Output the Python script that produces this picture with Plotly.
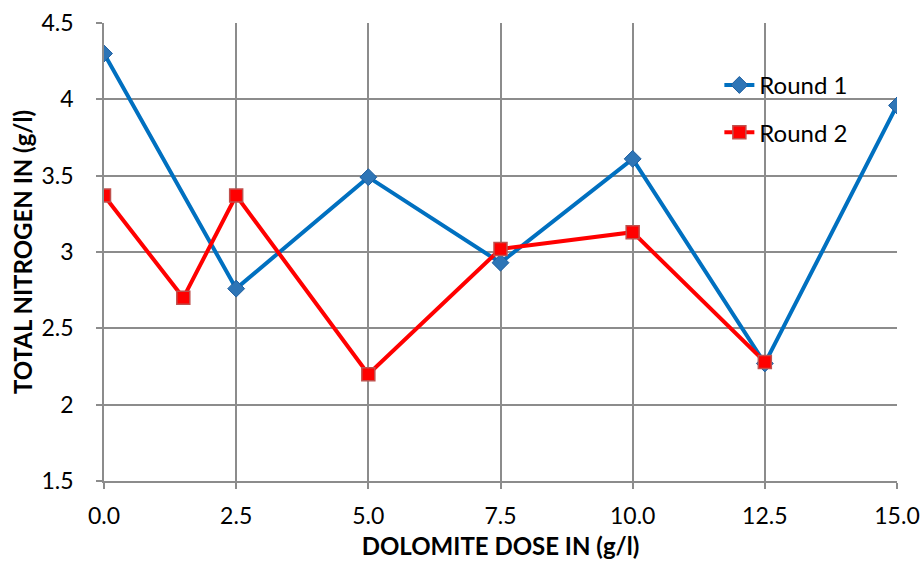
import plotly.graph_objects as go

x_round1 = [0, 2.5, 5, 7.5, 10, 12.5, 15]
y_round1 = [4.30, 2.76, 3.49, 2.93, 3.61, 2.27, 3.96]
x_round2 = [0, 1.5, 2.5, 5, 7.5, 10, 12.5]
y_round2 = [3.37, 2.70, 3.37, 2.20, 3.02, 3.13, 2.28]
x_ticks = [0, 2.5, 5, 7.5, 10, 12.5, 15]
x_ticklabels = ["0.0", "2.5", "5.0", "7.5", "10.0", "12.5", "15.0"]

font_family = "Lato, Open Sans, sans-serif"

fig = go.Figure()
fig.add_trace(go.Scatter(
    x=x_round1, y=y_round1, name="Round 1", mode="lines+markers",
    legendgroup="a",
    line=dict(color="#0070C0", width=4),
    marker=dict(symbol="diamond", size=13, color="#2E75B6",
                line=dict(color="#1F5FA0", width=1)),
))
fig.add_trace(go.Scatter(
    x=x_round2, y=y_round2, name="Round 2", mode="lines+markers",
    legendgroup="b",
    line=dict(color="#FF0000", width=4),
    marker=dict(symbol="square", size=13, color="#FF0000",
                line=dict(color="#C0504D", width=1.5)),
))

axis_common = dict(
    showgrid=True, gridcolor="#8C8C8C", gridwidth=1.5,
    showline=True, linecolor="#8C8C8C", linewidth=1.5,
    ticks="outside", tickcolor="#8C8C8C", ticklen=6, tickwidth=1.5,
    zeroline=False, automargin=False,
    tickfont=dict(family=font_family, size=23, color="#000000"),
)

fig.update_layout(
    width=924, height=563,
    margin=dict(l=104, r=27, t=23, b=82),
    plot_bgcolor="white", paper_bgcolor="white",
    font=dict(family=font_family, color="#000000"),
    xaxis=dict(
        range=[0, 15], tickvals=x_ticks, ticktext=x_ticklabels,
        ticklabelstandoff=8,
        title=dict(text="<b>DOLOMITE DOSE IN (g/l)</b>",
                   font=dict(family=font_family, size=24), standoff=10),
        **axis_common,
    ),
    yaxis=dict(
        range=[1.5, 4.5], dtick=0.5,
        ticklabelstandoff=18,
        title=dict(text="<b>TOTAL NITROGEN IN (g/l)</b>",
                   font=dict(family=font_family, size=24), standoff=2),
        **axis_common,
    ),
    legend=dict(
        x=0.776, y=0.913, xanchor="left", yanchor="top",
        bgcolor="rgba(0,0,0,0)", tracegroupgap=13,
        font=dict(family=font_family, size=24, color="#000000"),
    ),
)

fig.write_html("out.html")
